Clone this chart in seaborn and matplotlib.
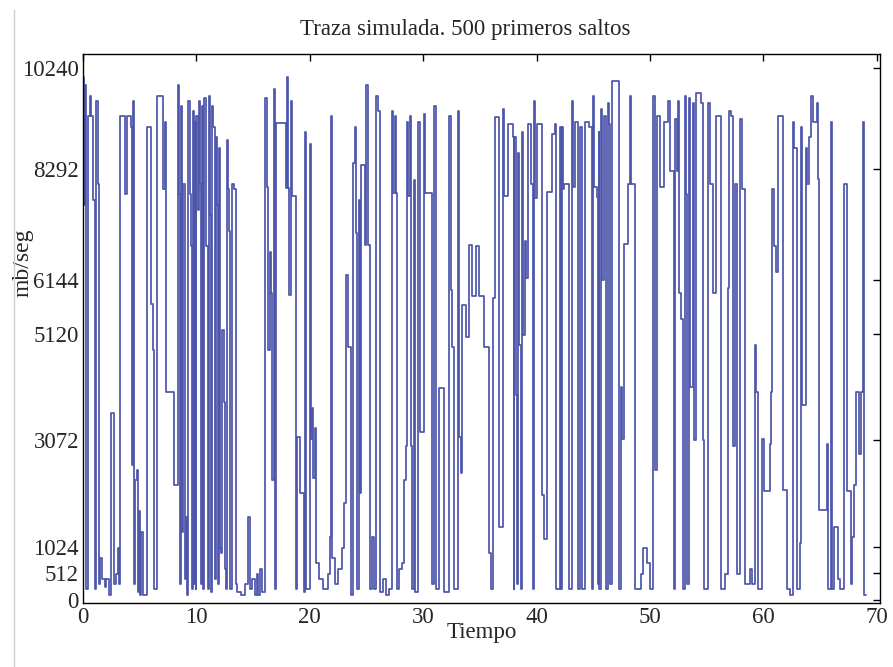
import pandas as pd
import seaborn as sns
import matplotlib.pyplot as plt
from matplotlib.lines import Line2D

# Traza simulada: instantes de salto (Tiempo) y tasa tras el salto (mb/seg)
tiempo = [
    0.0, 0.1, 0.2, 0.3, 0.45, 0.6, 0.7, 0.9, 1.05, 1.15, 1.3, 1.45, 1.5, 1.7, 1.9,
    2.05, 2.3, 2.45, 2.75, 2.95, 3.1, 3.2, 3.25, 3.7, 3.85, 4.2, 4.3, 4.45, 4.5, 4.6,
    4.75, 4.85, 4.95, 5.05, 5.15, 5.25, 5.6, 5.95, 6.2, 6.3, 6.5, 7.05, 7.2, 7.3, 8.0,
    8.35, 8.45, 8.55, 8.65, 8.75, 8.85, 9.0, 9.1, 9.2, 9.3, 9.4, 9.5, 9.6, 9.68, 9.75,
    9.85, 9.95,
    10.0, 10.1, 10.2, 10.3, 10.4, 10.5, 10.6, 10.7, 10.85, 11.0, 11.1, 11.2, 11.3, 11.4,
    11.5, 11.6, 11.7, 11.8, 11.9, 11.97, 12.05, 12.15, 12.25, 12.4, 12.5, 12.6, 12.7,
    12.8, 12.9,
    13.0, 13.1, 13.3, 13.45, 13.6, 13.9, 14.3, 14.55, 14.7, 14.9, 15.15, 15.3, 15.45,
    15.65, 15.8, 16.05, 16.2, 16.35, 16.45, 16.55, 16.65, 16.8, 16.9, 17.0, 17.9, 18.0,
    18.1, 18.2, 18.3, 18.4, 18.75, 18.85, 19.15, 19.45, 19.55, 19.65, 20.0, 20.1, 20.2,
    20.3, 20.45, 20.55, 20.8, 21.2, 21.6, 21.8, 21.9, 22.0, 22.2, 22.5, 22.8, 23.05,
    23.15, 23.4, 23.65, 23.85, 24.0, 24.1, 24.18, 24.3, 24.4, 24.55, 24.85, 24.95, 25.1,
    25.3, 25.5, 25.7, 25.8, 26.0, 26.2, 26.5, 26.7, 27.0, 27.25, 27.35, 27.5, 27.6, 27.7,
    27.9, 28.1, 28.3, 28.45, 28.55, 28.65, 28.8, 28.9, 29.0, 29.2, 29.3, 29.55, 29.7,
    30.1, 30.2, 30.75, 30.95, 31.1, 31.4, 31.8, 32.3, 32.45, 32.55, 32.7, 33.05, 33.15,
    33.3, 33.45, 33.75, 34.05, 34.3, 34.7, 34.9, 35.4, 35.85, 36.0, 36.15, 36.3, 36.65,
    37.0, 37.1, 37.5, 37.9, 38.0, 38.05, 38.15, 38.3, 38.37, 38.45, 38.6, 38.7, 38.8,
    38.95, 39.1,
    39.25, 39.5, 39.65, 39.8, 39.9, 40.0, 40.5, 40.65, 40.95, 41.35, 41.6, 41.75, 42.05,
    42.15, 42.25, 42.35, 42.45, 42.85, 43.1, 43.2, 43.4, 43.65, 43.8, 44.0, 44.3, 44.6,
    44.9, 45.0, 45.1, 45.3, 45.4, 45.47, 45.55, 45.7, 45.8, 45.95, 46.1, 46.3, 46.4,
    46.5, 46.65,
    47.3, 47.45, 47.55, 47.75, 48.05, 48.2, 48.35, 48.7, 49.2, 49.4, 49.7, 50.0, 50.3,
    50.45, 50.6, 50.9, 51.25, 51.6, 51.75, 52.1, 52.2, 52.4, 52.5, 52.6, 52.75, 52.9,
    53.1, 53.2, 53.3, 53.45, 53.55, 53.8, 53.9, 54.1, 54.5, 54.65, 54.8, 55.1, 55.3,
    55.55,
    55.8, 56.25, 56.6, 56.9, 57.0, 57.15, 57.3, 57.5, 57.7, 57.95, 58.1, 58.35, 58.8,
    59.0, 59.3, 59.35, 59.5, 59.85, 60.05, 60.6, 60.7, 60.75, 60.95, 61.1, 61.3, 61.7,
    62.1, 62.35, 62.6, 62.7, 62.95, 63.2, 63.35, 63.45, 63.8, 63.9, 64.0, 64.2, 64.35,
    64.75, 64.85, 64.95, 65.6, 65.7, 65.95, 66.05, 66.2, 66.6, 66.8, 67.15, 67.35, 67.7,
    67.85, 68.0, 68.15, 68.45, 68.6, 68.8, 68.9, 69.1,
]
tasa = [
    10050, 7600, 9900, 200, 9300, 9700, 9300, 7700, 200, 9600, 8000, 300, 800, 400, 250,
    400, 100, 3600, 300, 500, 1000, 300, 9300, 7800, 9300, 9100, 2600, 9600, 300, 2300,
    2500, 150, 1700, 100, 1300, 100, 9100, 5700, 4800, 200, 9700, 7900, 9200, 4000, 2200,
    9900, 7800, 300, 9500, 1300, 8000, 400, 1600, 100, 9600, 7800, 6800, 200, 9400, 300,
    9200, 200,
    9300, 7500, 9600, 8000, 300, 9500, 200, 9650, 6800, 200, 9700, 7400, 150, 9500,
    9100, 400, 8900, 7600, 300, 8700, 1000, 900, 5200, 3800, 600, 200, 8850,
    7900, 7100,
    200, 8000, 7900, 300, 150, 100, 300, 1600, 200, 400, 100, 500, 100,
    600, 150, 9660, 7950, 4800, 6700, 5900, 2300, 9820, 200, 9180, 7930, 10050,
    7930, 5870, 9590, 7760, 200, 3140, 2060, 150, 9000, 200, 8760, 3100, 3700,
    2350, 3300, 700, 400, 200, 500, 1200, 9300, 800, 300, 600, 1000, 1860,
    6250, 4870, 100, 8400, 9100, 7060, 200, 7700, 2060, 8370, 6830, 9910, 6830,
    200, 1200, 200, 9700, 9400, 150, 400, 100, 200, 9400, 7830, 9300, 7830, 200,
    600, 700, 2310, 2950, 9200, 7760, 9300, 2950, 200, 8080, 150, 9200, 3230,
    9350, 7830, 300, 9500, 200, 4080, 150, 9300, 5970, 4870, 200, 9400, 3140,
    2440, 5680, 5060, 6830, 5840, 6800, 5840, 4870, 900, 200, 5800, 9280, 1400,
    9450, 7760, 9150, 8900, 200, 8900, 3950, 300, 8600, 4900, 200, 9000, 5100,
    6900, 6200,
    9150, 8000, 200, 9600, 7740, 9150, 2020, 1180, 7850, 8960, 9150, 200, 9100,
    200, 9100, 7900, 8000, 200, 9600, 7950, 9200, 200, 9100, 200, 9200, 9100,
    200, 9700, 7950, 7750, 300, 9000, 200, 9450, 6150, 9300, 200, 9550, 9150,
    300, 9980,
    200, 4100, 3100, 6850, 8000, 9700, 8000, 200, 500, 1000, 700, 200, 9700,
    2500, 9300, 7950, 9200, 9600, 8250, 200, 9250, 8250, 9600, 5900, 5400, 200,
    9700, 7800, 300, 9650, 4100, 9550, 3080, 9750, 9550, 3080, 200, 9550, 8000,
    5900,
    9300, 200, 500, 6000, 9400, 9300, 2950, 8000, 500, 9250, 7900, 300, 600,
    300, 4900, 4000, 200, 3100, 2100, 3000, 4000, 7900, 6800, 6300, 9300, 2120,
    200, 100, 9200, 8700, 200, 1100, 9100, 3750, 8700, 8000, 8900, 9700, 9200,
    9550, 8100, 1730, 3000, 200, 9200, 200, 1400, 400, 200, 8000, 2100, 300,
    1200, 2200, 4000, 2800, 4000, 9200, 100, 100,
]

xticks = [0, 10, 20, 30, 40, 50, 60, 70]
yticks = [0, 512, 1024, 3072, 5120, 6144, 8292, 10240]

sns.set_theme(style="white")
plt.rcParams["font.family"] = ["Liberation Serif", "DejaVu Serif"]

fig, ax = plt.subplots(figsize=(8.93, 6.67), dpi=100)
fig.subplots_adjust(left=0.093, right=0.9855, bottom=0.096, top=0.919)

df = pd.DataFrame({"Tiempo": tiempo, "mb/seg": tasa})
sns.lineplot(data=df, x="Tiempo", y="mb/seg", drawstyle="steps-post",
             color="#3a43a2", linewidth=1.25, alpha=0.9, estimator=None, ax=ax)

ax.set_xlim(0, 70.3)
ax.set_ylim(-60, 10500)
ax.set_xticks(xticks)
ax.set_yticks(yticks)
ax.tick_params(direction="in", top=True, right=True, length=5, width=1,
               color="black", labelsize=16.5, pad=3)
for sp in ax.spines.values():
    sp.set_color("black")
    sp.set_linewidth(1.0)

ax.set_title("Traza simulada. 500 primeros saltos", fontsize=16.5, pad=14, x=0.479)
ax.set_xlabel("Tiempo", fontsize=16.5)
ax.set_ylabel("mb/seg", fontsize=17)
ax.xaxis.set_label_coords(0.5, -0.034)
ax.yaxis.set_label_coords(-0.062, 0.62)

# fine grey rule along the left edge of the original image
fig.add_artist(Line2D([14 / 893, 14 / 893], [0, 1 - 10 / 667],
                      transform=fig.transFigure, color="#cccccc", linewidth=1))

fig.savefig("out.png", dpi=100)
